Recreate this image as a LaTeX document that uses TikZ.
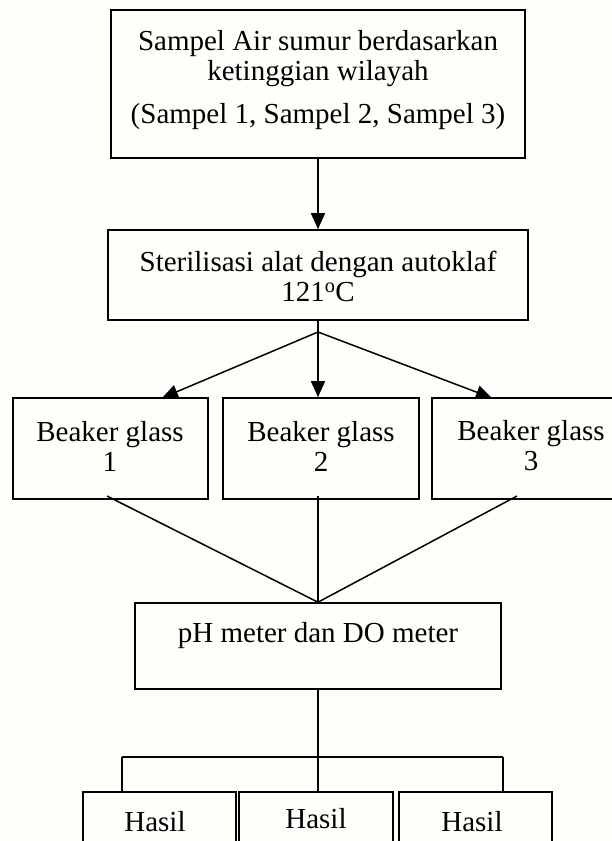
\documentclass[tikz,border=0pt]{standalone}
\usepackage{fontspec}
\setmainfont{Liberation Serif}
\usetikzlibrary{arrows.meta}
\definecolor{paper}{RGB}{254,254,250}
\tikzset{
  box/.style={draw, line width=1.6pt, inner sep=0pt},
  lbl/.style={align=center, inner sep=0pt, font=\fontsize{29}{30}\selectfont},
  link/.style={line width=1.5pt},
  flow/.style={line width=1.5pt, -{Triangle[length=16pt,width=14pt]}},
}
\newcommand{\boxat}[5]{% name, x1, y1, x2, y2
  \node[box, minimum width=#4pt-#2pt, minimum height=#5pt-#3pt] (#1) at ({(#2+#4)/2},{(#3+#5)/2}) {};}
\begin{document}
\begin{tikzpicture}[x=1pt, y=-1pt]
  \fill[paper] (0,0) rectangle (612,841);
  \useasboundingbox (0,0) rectangle (612,841);

  % boxes
  \boxat{src}{111}{10}{525}{158}
  \boxat{ster}{108}{230}{528}{320}
  \boxat{bk1}{13}{398}{208}{499}
  \boxat{bk2}{223}{398}{419}{499}
  \boxat{bk3}{432}{398}{616}{499}
  \boxat{ph}{135}{603}{501}{689}
  \boxat{h1}{83}{792}{236}{860}
  \boxat{h2}{239}{792}{393}{860}
  \boxat{h3}{399}{792}{552}{860}

  % texts
  \node[lbl] (tsrc) at (318,80) {Sampel Air sumur berdasarkan\\ketinggian wilayah\\[13pt](Sampel 1, Sampel 2, Sampel 3)};
  \node[lbl] (tster) at (318,276) {Sterilisasi alat dengan autoklaf\\121\textsuperscript{o}C};
  \node[lbl] (tbk1) at (110,446) {Beaker glass\\1};
  \node[lbl] (tbk2) at (321,446) {Beaker glass\\2};
  \node[lbl] (tbk3) at (531,446) {Beaker glass\\3};
  \node[lbl] (tph) at (318,636) {pH meter dan DO meter};
  \node[lbl] (th1) at (155,822) {Hasil};
  \node[lbl] (th2) at (316,819) {Hasil};
  \node[lbl] (th3) at (472,822) {Hasil};

  % connector points
  \coordinate (apex) at (318,332);
  \coordinate (o1) at (107,496);
  \coordinate (o2) at (318,496);
  \coordinate (o3) at (517,496);
  \coordinate (bar) at (318,757);
  \coordinate (barL) at (122,757);
  \coordinate (barR) at (503,757);

  % arrows
  \draw[flow] (src.south) -- (ster.north);
  \draw[link] (ster.south) -- (apex);
  \draw[flow] (apex) -- (162,398);
  \draw[flow] (apex) -- (apex |- bk2.north);
  \draw[flow] (apex) -- (492,398);

  % merging lines
  \draw[link] (o1) -- (o2 |- ph.north);
  \draw[link] (o2) -- (o2 |- ph.north);
  \draw[link] (o3) -- (o2 |- ph.north);

  % distribution lines
  \draw[link] (bar |- ph.south) -- (bar);
  \draw[link] (barL) -- (barR);
  \draw[link] (barL) -- (barL |- h1.north);
  \draw[link] (bar) -- (bar |- h2.north);
  \draw[link] (barR) -- (barR |- h3.north);
\end{tikzpicture}
\end{document}
